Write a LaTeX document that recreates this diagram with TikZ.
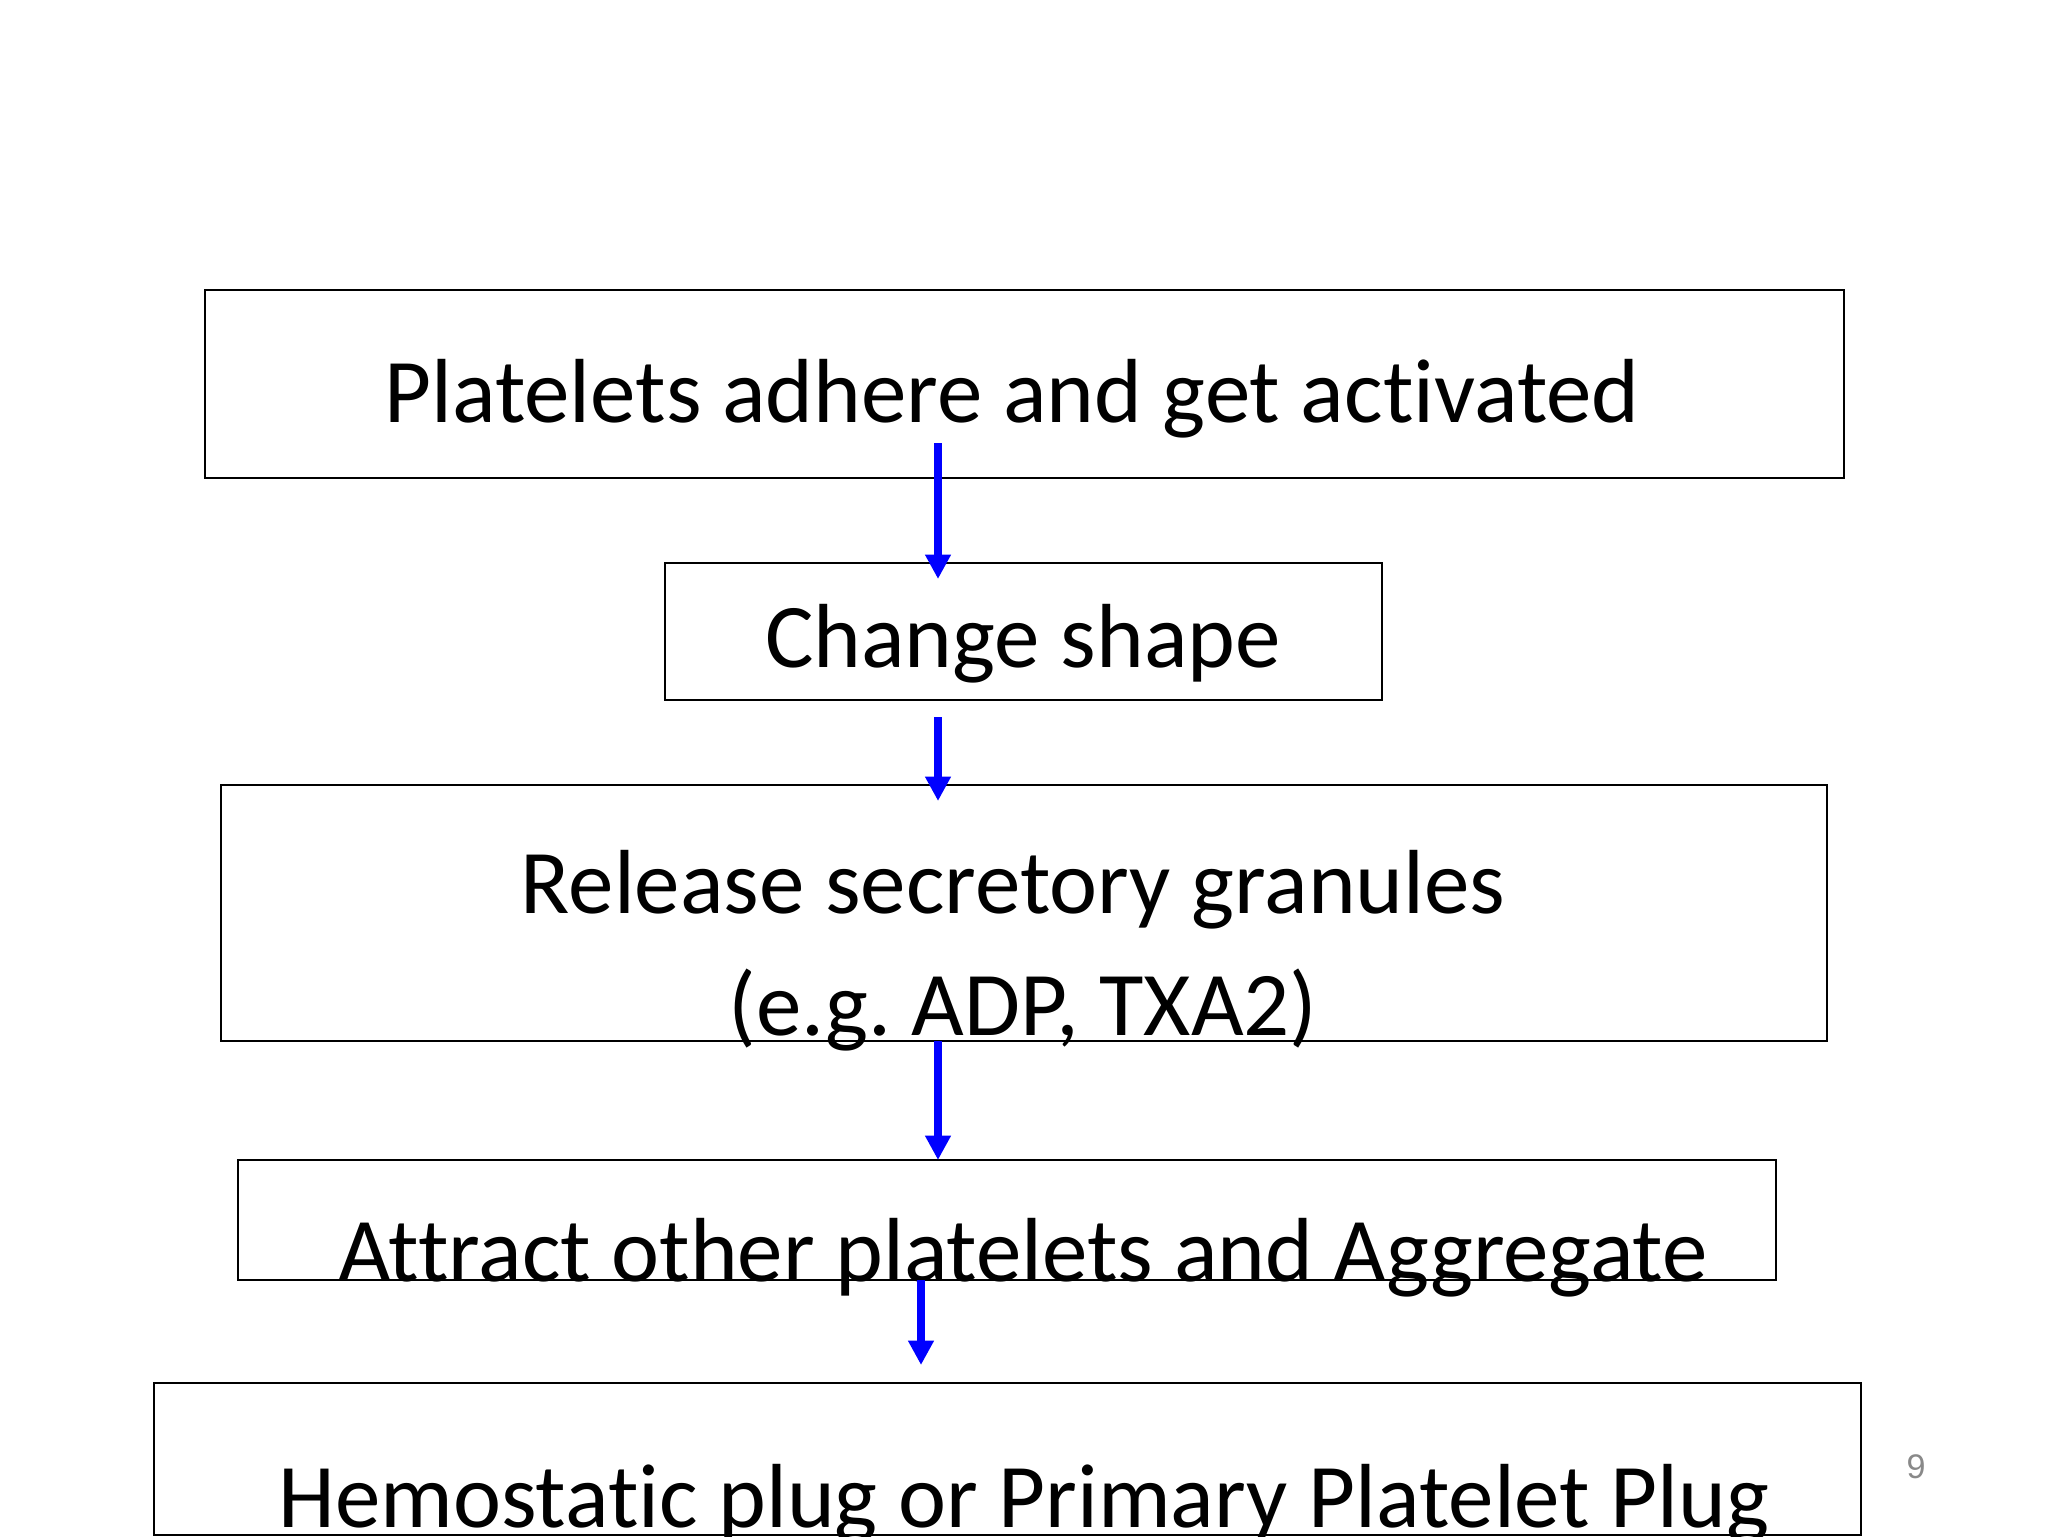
\documentclass[tikz,border=0pt]{standalone}
\usepackage{fontspec}
\setmainfont[Ligatures=NoCommon]{Carlito}
\newfontfamily\numfont{Liberation Sans}
\usepackage{tikz}
\usetikzlibrary{arrows.meta}
\frenchspacing

\definecolor{pagegray}{RGB}{137,137,137}
\newlength\unitpx
\setlength\unitpx{0.3516pt}

\tikzset{
    stepbox/.style={draw=black, line width=0.75pt, inner sep=0pt, outer sep=0pt},
    steptext/.style={inner sep=0pt, anchor=base, font=\fontsize{32}{38}\selectfont},
    flow/.style={draw=blue, line width=2.6pt, -{Triangle[width=8.6pt,length=8.6pt]}}
}

\begin{document}
\begin{tikzpicture}[x=0.3516pt, y=-0.3516pt]
\useasboundingbox (0,0) rectangle (2048,1536);

% the five boxes
\node[stepbox, minimum width=1639\unitpx, minimum height=188\unitpx] (adhere)    at (1024.5, 384)   {};
\node[stepbox, minimum width=717\unitpx,  minimum height=137\unitpx] (shape)     at (1023.5, 631.5) {};
\node[stepbox, minimum width=1606\unitpx, minimum height=256\unitpx] (release)   at (1024,   913)   {};
\node[stepbox, minimum width=1538\unitpx, minimum height=120\unitpx] (aggregate) at (1007,   1220)  {};
\node[stepbox, minimum width=1707\unitpx, minimum height=152\unitpx] (plug)      at (1007.5, 1459)  {};

% texts
\node[steptext] (adheretext)    at (1012, 422)  {Platelets adhere and get activated};
\node[steptext] (shapetext)     at (1023, 667)  {Change shape};
\node[steptext] (releasetext)   at (1013, 913)  {Release secretory granules};
\node[steptext] (exampletext)   at (1023, 1035) {(e.g. ADP, TXA2)};
\node[steptext] (aggregatetext) at (1023, 1281) {Attract other platelets and Aggregate};
\node[steptext] (plugtext)      at (1024, 1527) {Hemostatic plug or Primary Platelet Plug};

\node[inner sep=0pt, text=pagegray, font=\numfont\fontsize{12}{14}\selectfont] (pagenum) at (1916, 1467) {9};

% arrows
\draw[flow] ([shift={(-86.5,-35)}]adhere.south)  -- ([shift={(-85.5,16)}]shape.north);
\draw[flow] ([shift={(-85.5,17)}]shape.south)    -- ([shift={(-86,16)}]release.north);
\draw[flow] ([shift={(-86,0)}]release.south)     -- ([shift={(-69,0)}]aggregate.north);
\draw[flow] ([shift={(-86,0)}]aggregate.south)   -- ([shift={(-86.5,-18)}]plug.north);
\end{tikzpicture}
\end{document}
